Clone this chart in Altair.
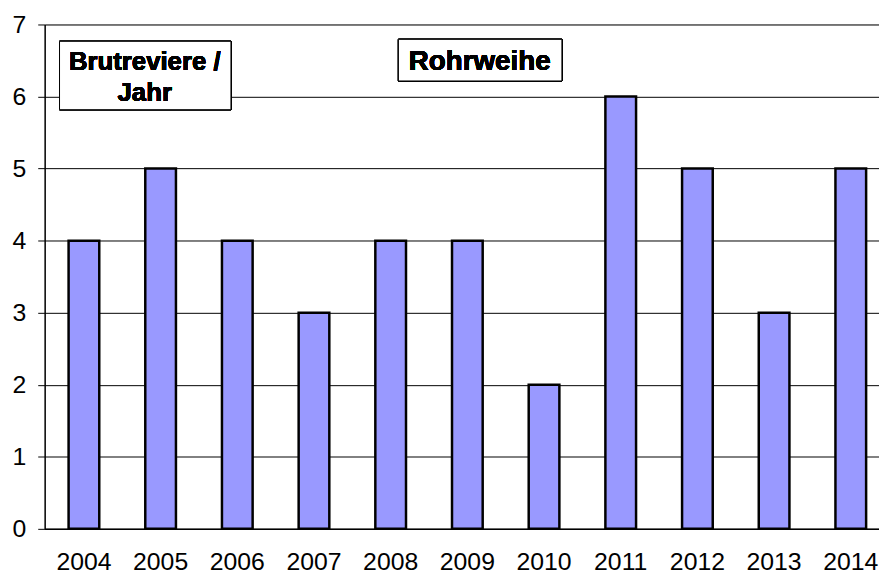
import altair as alt
import pandas as pd

years = ["2004", "2005", "2006", "2007", "2008", "2009", "2010", "2011", "2012", "2013", "2014"]
values = [4, 5, 4, 3, 4, 4, 2, 6, 5, 3, 5]
y_ticks = [0, 1, 2, 3, 4, 5, 6, 7]
box_label = ["Brutreviere /", "Jahr"]
title_label = "Rohrweihe"

df = pd.DataFrame({"Jahr": years, "Anzahl": values})
FONT = "Liberation Sans"

W, H = 842, 509

bars = alt.Chart(df).mark_bar(
    fill="#9999FF", stroke="#000000", strokeWidth=2.5
).encode(
    x=alt.X("Jahr:N", sort=years, title=None,
            scale=alt.Scale(paddingInner=0.6, paddingOuter=0.24, align=0.65),
            axis=alt.Axis(labelAngle=0, labelFontSize=25, labelFont=FONT, labelColor="#000",
                          ticks=False, tickSize=0, labelPadding=21, domainColor="#000",
                          domainWidth=1.5, grid=False)),
    y=alt.Y("Anzahl:Q", title=None,
            scale=alt.Scale(domain=[0, 7], nice=False),
            axis=alt.Axis(values=y_ticks, labelFontSize=25, labelFont=FONT, labelColor="#000",
                          tickSize=7, tickColor="#000", labelPadding=12, domainColor="#000",
                          domainWidth=1.5, grid=True, gridColor="#000", gridWidth=1,
                          gridOpacity=1)),
)

box1 = alt.Chart(df).mark_rect(fill="white", stroke="#000", strokeWidth=1).encode(
    x=alt.value(15), x2=alt.value(188), y=alt.value(17), y2=alt.value(86)
)
box2 = alt.Chart(df).mark_rect(fill="white", stroke="#000", strokeWidth=1).encode(
    x=alt.value(357), x2=alt.value(522), y=alt.value(15), y2=alt.value(57)
)
t1 = alt.Chart(df).mark_text(text=box_label[0], font=FONT, fontSize=26, fontWeight="bold",
                             align="center", baseline="alphabetic", color="#000").encode(
    x=alt.value(101), y=alt.value(46)
)
t2 = alt.Chart(df).mark_text(text=box_label[1], font=FONT, fontSize=26, fontWeight="bold",
                             align="center", baseline="alphabetic", color="#000").encode(
    x=alt.value(101), y=alt.value(77)
)
t3 = alt.Chart(df).mark_text(text=title_label, font=FONT, fontSize=28, fontWeight="bold",
                             align="center", baseline="alphabetic", color="#000").encode(
    x=alt.value(439), y=alt.value(46)
)

chart = alt.layer(bars, box1, box2, t1, t2, t3).properties(
    width=W, height=H,
    autosize=alt.AutoSizeParams(type="none"),
    padding={"left": 37, "top": 14, "right": 0, "bottom": 50},
).configure_view(stroke=None).configure(background="white")

chart.save("out.html", embed_options={"renderer": "svg", "actions": False})
